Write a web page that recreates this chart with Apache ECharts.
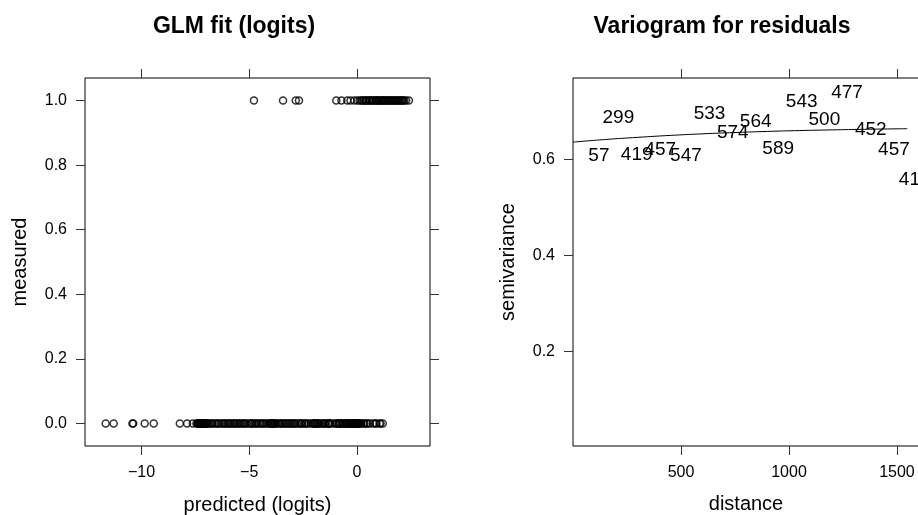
<!DOCTYPE html>
<html>
<head>
<meta charset="utf-8">
<style>
  html, body { margin: 0; padding: 0; background: #ffffff; }
  #chart { width: 918px; height: 515px; }
</style>
<script src="https://cdn.jsdelivr.net/npm/echarts@6/dist/echarts.min.js"></script>
</head>
<body>
<div id="chart"></div>
<script>
// GLM fit: predicted logits for observations measured as 0 and as 1
const predictedAt0 = [
  -11.66, -11.29, -10.42, -10.38, -9.85, -9.43, -8.22, -7.88, -7.62,
  -7.45, -7.4, -7.38, -7.35, -7.33, -7.3, -7.28, -7.25, -7.22, -7.2,
  -7.18, -7.15, -7.12, -7.08, -7.05, -7.0, -6.98, -6.95, -6.9, -6.82,
  -6.75, -6.7, -6.6, -6.52, -6.45, -6.4, -6.3, -6.22, -6.15, -6.1, -6.02,
  -5.95, -5.9, -5.85, -5.75, -5.7, -5.66, -5.58, -5.5, -5.45, -5.38,
  -5.3, -5.25, -5.2, -5.12, -5.02, -4.93, -4.9, -4.85, -4.76, -4.7,
  -4.65, -4.55, -4.48, -4.4, -4.35, -4.3, -4.2, -4.12, -4.05, -4.0,
  -3.98, -3.95, -3.92, -3.88, -3.85, -3.8, -3.78, -3.7, -3.62, -3.55,
  -3.5, -3.45, -3.35, -3.3, -3.25, -3.15, -3.1, -3.05, -2.97, -2.9,
  -2.88, -2.8, -2.7, -2.62, -2.6, -2.55, -2.45, -2.4, -2.35, -2.25,
  -2.15, -2.05, -2.0, -1.98, -1.95, -1.9, -1.85, -1.82, -1.75, -1.72,
  -1.62, -1.55, -1.5, -1.45, -1.35, -1.32, -1.3, -1.28, -1.25, -1.15,
  -1.02, -0.95, -0.92, -0.85, -0.82, -0.8, -0.78, -0.7, -0.65, -0.62,
  -0.55, -0.5, -0.48, -0.42, -0.38, -0.36, -0.3, -0.28, -0.25, -0.2,
  -0.18, -0.15, -0.1, -0.08, -0.05, -0.02, 0.0, 0.05, 0.08, 0.12, 0.15,
  0.2, 0.3, 0.35, 0.45, 0.5, 0.6, 0.75, 0.85, 0.9, 1.05, 1.1, 1.2
];
const predictedAt1 = [
  -4.78, -3.43, -2.84, -2.69, -0.96, -0.72, -0.45, -0.3, -0.12, 0.02,
  0.12, 0.22, 0.25, 0.3, 0.38, 0.42, 0.46, 0.55, 0.58, 0.62, 0.7, 0.75,
  0.8, 0.88, 0.92, 0.95, 1.0, 1.05, 1.12, 1.15, 1.2, 1.25, 1.3, 1.35,
  1.4, 1.45, 1.5, 1.55, 1.6, 1.65, 1.7, 1.75, 1.8, 1.85, 1.9, 1.95, 2.0,
  2.05, 2.1, 2.15, 2.2, 2.28, 2.41
];
const logitTicks = [-10, -5, 0];
const measuredTicks = [0, 0.2, 0.4, 0.6, 0.8, 1.0];

// Sample variogram of the residuals: lag distance, semivariance, pair counts
const lagDistance = [120, 210, 295, 404, 523, 632, 740, 846, 950, 1059, 1164, 1269, 1379, 1486, 1582];
const semivariance = [0.6075, 0.6856, 0.610, 0.619, 0.6075, 0.694, 0.654, 0.6785, 0.621, 0.719, 0.682, 0.738, 0.661, 0.619, 0.557];
const pairCounts = ['57', '299', '419', '457', '547', '533', '574', '564', '589', '543', '500', '477', '452', '457', '418'];

// Fitted variogram model curve
const modelDistance = [0, 150, 300, 450, 600, 750, 900, 1050, 1200, 1350, 1548];
const modelGamma = [0.6355, 0.641, 0.6455, 0.6495, 0.6528, 0.6555, 0.6578, 0.6596, 0.661, 0.6622, 0.6635];
const distanceTicks = [500, 1000, 1500];
const gammaTicks = [0.2, 0.4, 0.6];

const FONT = '"Liberation Sans", Arial, Helvetica, sans-serif';
const tickColor = '#333333';

function fmt(v, digits) {
  const s = digits == null ? String(v) : Number(v).toFixed(digits);
  return s.replace('-', '\u2212');
}

function tickStyle(ticks) {
  return { show: true, inside: false, length: 9, customValues: ticks, lineStyle: { color: tickColor, width: 1 } };
}

function labelAxis(opts, ticks, digits, margin) {
  return Object.assign({
    type: 'value',
    axisLine: { show: false, onZero: false },
    splitLine: { show: false },
    axisTick: tickStyle(ticks),
    axisLabel: {
      show: true, color: '#000', fontSize: 16, fontFamily: FONT, margin: margin,
      customValues: ticks, formatter: v => fmt(v, digits)
    },
    nameTextStyle: { color: '#000', fontSize: 20, fontFamily: FONT },
    nameLocation: 'middle'
  }, opts);
}

function tickOnlyAxis(opts, ticks) {
  return Object.assign({
    type: 'value',
    axisLine: { show: false, onZero: false },
    splitLine: { show: false },
    axisTick: tickStyle(ticks),
    axisLabel: { show: false, customValues: ticks }
  }, opts);
}

const chart = echarts.init(document.getElementById('chart'), null, { renderer: 'canvas' });

const option = {
  animation: false,
  backgroundColor: '#ffffff',
  graphic: [
    { type: 'text', x: 234, y: 27, style: { text: 'GLM fit (logits)', font: 'bold 23px ' + FONT, fill: '#000', align: 'center', verticalAlign: 'middle' } },
    { type: 'text', x: 722, y: 27, style: { text: 'Variogram for residuals', font: 'bold 23px ' + FONT, fill: '#000', align: 'center', verticalAlign: 'middle' } }
  ],
  grid: [
    { left: 85, top: 78, width: 345, height: 368, outerBoundsMode: 'none', containLabel: false, show: true, borderColor: '#000', borderWidth: 1, backgroundColor: 'transparent' },
    { left: 573, top: 78, width: 346, height: 368, outerBoundsMode: 'none', containLabel: false, show: true, borderColor: '#000', borderWidth: 1, backgroundColor: 'transparent' }
  ],
  xAxis: [
    labelAxis({ gridIndex: 0, position: 'bottom', min: -12.62, max: 3.39, name: 'predicted (logits)', nameGap: 49 }, logitTicks, null, 19),
    tickOnlyAxis({ gridIndex: 0, position: 'top', min: -12.62, max: 3.39 }, logitTicks),
    labelAxis({ gridIndex: 1, position: 'bottom', min: 0, max: 1602, name: 'distance', nameGap: 48 }, distanceTicks, null, 19),
    tickOnlyAxis({ gridIndex: 1, position: 'top', min: 0, max: 1602 }, distanceTicks)
  ],
  yAxis: [
    labelAxis({ gridIndex: 0, position: 'left', min: -0.07, max: 1.07, name: 'measured', nameGap: 55 }, measuredTicks, 1, 18),
    tickOnlyAxis({ gridIndex: 0, position: 'right', min: -0.07, max: 1.07 }, measuredTicks),
    labelAxis({ gridIndex: 1, position: 'left', min: 0.003, max: 0.769, name: 'semivariance', nameGap: 55 }, gammaTicks, 1, 18),
    tickOnlyAxis({ gridIndex: 1, position: 'right', min: 0.003, max: 0.769 }, gammaTicks)
  ],
  series: [
    {
      type: 'scatter', xAxisIndex: 0, yAxisIndex: 0,
      data: predictedAt0.map(x => [x, 0]),
      symbol: 'circle', symbolSize: 7,
      itemStyle: { color: 'transparent', borderColor: '#000', borderWidth: 1.5 },
      silent: true
    },
    {
      type: 'scatter', xAxisIndex: 0, yAxisIndex: 0,
      data: predictedAt1.map(x => [x, 1]),
      symbol: 'circle', symbolSize: 7,
      itemStyle: { color: 'transparent', borderColor: '#000', borderWidth: 1.5 },
      silent: true
    },
    {
      type: 'line', xAxisIndex: 2, yAxisIndex: 2,
      data: modelDistance.map((d, i) => [d, modelGamma[i]]),
      smooth: true, showSymbol: false, symbol: 'none',
      lineStyle: { color: '#000', width: 1 },
      silent: true, z: 2
    },
    {
      type: 'scatter', xAxisIndex: 2, yAxisIndex: 2,
      data: lagDistance.map((d, i) => [d, semivariance[i]]),
      symbol: 'circle', symbolSize: 1,
      itemStyle: { color: 'transparent', opacity: 1 },
      label: {
        show: true, position: 'inside',
        formatter: p => pairCounts[p.dataIndex],
        color: '#000', fontSize: 19, fontFamily: FONT,
        textBorderWidth: 0, opacity: 1
      },
      clip: false, silent: true, z: 3
    }
  ]
};

chart.setOption(option);
</script>
</body>
</html>
